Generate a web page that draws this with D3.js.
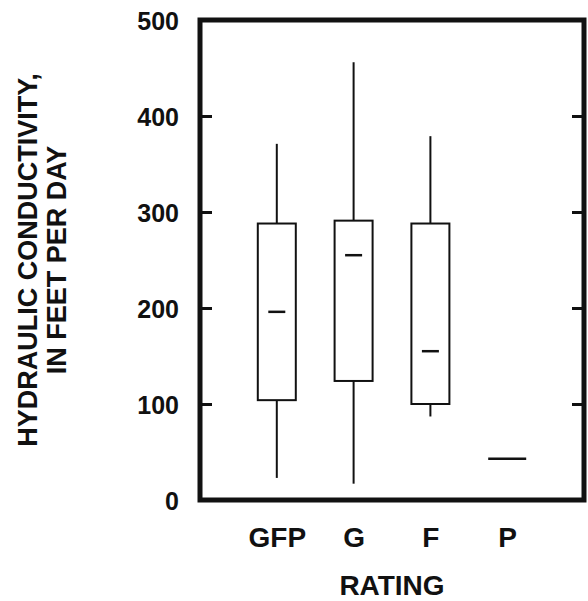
<!DOCTYPE html>
<html>
<head>
<meta charset="utf-8">
<script src="https://cdn.jsdelivr.net/npm/d3@7"></script>
<style>
    body { margin: 0; background: #fff; }
    text { font-family: "Liberation Sans", Arial, sans-serif; font-weight: bold; fill: #111; }
</style>
</head>
<body>
<svg id="chart" width="588" height="601"></svg>
<script>
// box plot values, feet per day
var ratings = ["GFP", "G", "F", "P"];
var lowWhisker = [23, 17, 87, 43];
var lowerQuartile = [104, 124, 100, 43];
var median = [196, 255, 155, 43];
var upperQuartile = [288, 291, 288, 43];
var highWhisker = [371, 456, 379, 43];
var yTicks = [0, 100, 200, 300, 400, 500];
var innerTicks = [100, 200, 300, 400];

var svg = d3.select("#chart");
// note: "top" is taken by window.top, so plot edges get their own names
var plotLeft = 200, plotRight = 584, plotTop = 20, plotBottom = 500;
var boxW = 38, medW = 17;

var x = d3.scalePoint().domain(ratings).range([plotLeft, plotRight]).padding(1);
var y = d3.scaleLinear().domain([0, 500]).range([plotBottom, plotTop]);

// tick labels on the left
var yLabels = svg.append("g").attr("transform", "translate(" + plotLeft + ",0)")
    .call(d3.axisLeft(y).tickValues(yTicks).tickSize(0).tickPadding(21));
yLabels.select(".domain").remove();
yLabels.selectAll("text").style("font-size", "25px").attr("dy", "0.36em");

// inward ticks on both sides
var tl = svg.append("g").attr("transform", "translate(" + plotLeft + ",0)")
    .call(d3.axisRight(y).tickValues(innerTicks).tickSize(12).tickFormat(""));
var tr = svg.append("g").attr("transform", "translate(" + plotRight + ",0)")
    .call(d3.axisLeft(y).tickValues(innerTicks).tickSize(12).tickFormat(""));
[tl, tr].forEach(function (g) {
    g.select(".domain").remove();
    g.selectAll("line").attr("stroke", "#111").attr("stroke-width", 3);
});

// category labels
var xLabels = svg.append("g").attr("transform", "translate(0," + plotBottom + ")")
    .call(d3.axisBottom(x).tickSize(0));
xLabels.select(".domain").remove();
xLabels.selectAll("text").style("font-size", "28px").attr("y", 47).attr("dy", 0);

var boxes = svg.append("g").selectAll("g").data(ratings).enter().append("g");

boxes.each(function (d, i) {
    var g = d3.select(this);
    var cx = x(d);
    if (lowerQuartile[i] == upperQuartile[i]) {
        g.append("line")
            .attr("x1", cx - boxW / 2).attr("x2", cx + boxW / 2)
            .attr("y1", y(median[i])).attr("y2", y(median[i]))
            .attr("stroke", "#111").attr("stroke-width", 2.5);
        return;
    }
    g.append("line")
        .attr("x1", cx).attr("x2", cx)
        .attr("y1", y(lowWhisker[i])).attr("y2", y(lowerQuartile[i]))
        .attr("stroke", "#111").attr("stroke-width", 2);
    g.append("line")
        .attr("x1", cx).attr("x2", cx)
        .attr("y1", y(upperQuartile[i])).attr("y2", y(highWhisker[i]))
        .attr("stroke", "#111").attr("stroke-width", 2);
    g.append("rect")
        .attr("x", cx - boxW / 2).attr("width", boxW)
        .attr("y", y(upperQuartile[i]))
        .attr("height", y(lowerQuartile[i]) - y(upperQuartile[i]))
        .attr("fill", "none").attr("stroke", "#111").attr("stroke-width", 2);
    g.append("line")
        .attr("x1", cx - medW / 2).attr("x2", cx + medW / 2)
        .attr("y1", y(median[i])).attr("y2", y(median[i]))
        .attr("stroke", "#111").attr("stroke-width", 2.5);
});

// heavy frame
svg.append("rect")
    .attr("x", plotLeft).attr("y", plotTop)
    .attr("width", plotRight - plotLeft).attr("height", plotBottom - plotTop)
    .attr("fill", "none").attr("stroke", "#111").attr("stroke-width", 5);

// axis titles
var yTitle = svg.append("text")
    .attr("transform", "translate(0," + ((plotTop + plotBottom) / 2) + ") rotate(-90)")
    .attr("text-anchor", "middle").style("font-size", "27px");
yTitle.append("tspan").attr("x", 0).attr("y", 37).text("HYDRAULIC CONDUCTIVITY,");
yTitle.append("tspan").attr("x", 0).attr("y", 66).text("IN FEET PER DAY");

svg.append("text")
    .attr("x", (plotLeft + plotRight) / 2).attr("y", 595)
    .attr("text-anchor", "middle").style("font-size", "28px")
    .text("RATING");
</script>
</body>
</html>
